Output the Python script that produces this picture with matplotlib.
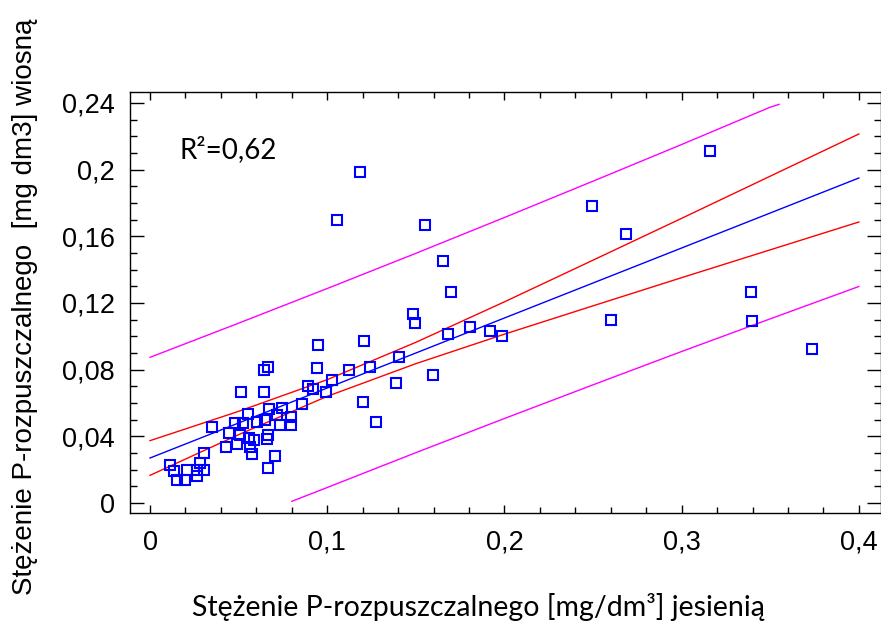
import numpy as np
import matplotlib.pyplot as plt
from matplotlib.ticker import MultipleLocator

# punkty pomiarowe (jesien, wiosna)
x_jesien = [0.1185, 0.1057, 0.1554, 0.1651, 0.1697, 0.1483, 0.1496, 0.168, 0.1806, 0.1919,
            0.1985, 0.1599, 0.1405, 0.1388, 0.2493, 0.2686, 0.316, 0.26, 0.3393, 0.3397,
            0.3738, 0.095, 0.1209, 0.1204, 0.1275, 0.1243, 0.1125, 0.1025, 0.0992, 0.0944,
            0.0893, 0.0922, 0.0859, 0.0796, 0.0796, 0.0743, 0.0734, 0.0715, 0.0705, 0.0672,
            0.0668, 0.0659, 0.0668, 0.0668, 0.0643, 0.0643, 0.0514, 0.0553, 0.0649, 0.0602,
            0.0525, 0.0477, 0.0347, 0.0448, 0.0508, 0.0429, 0.0489, 0.056, 0.0587, 0.0564,
            0.0577, 0.0305, 0.0282, 0.0305, 0.0206, 0.0264, 0.0113, 0.0135, 0.0151, 0.0198,
            0.0264]
y_wiosna = [0.1986, 0.1698, 0.1666, 0.1454, 0.1266, 0.1134, 0.1083, 0.1014, 0.1054, 0.1034,
            0.1002, 0.0771, 0.0874, 0.0718, 0.1782, 0.1616, 0.2112, 0.1098, 0.1266, 0.109,
            0.0922, 0.095, 0.0972, 0.0606, 0.0489, 0.0819, 0.0798, 0.0738, 0.0668, 0.0808,
            0.0704, 0.0684, 0.0597, 0.0518, 0.0468, 0.0568, 0.0468, 0.0531, 0.0282, 0.0564,
            0.0408, 0.0382, 0.0208, 0.0814, 0.0798, 0.0668, 0.0668, 0.0537, 0.0498, 0.0488,
            0.0478, 0.0483, 0.0454, 0.042, 0.0411, 0.0334, 0.0354, 0.0388, 0.0378, 0.0338,
            0.0292, 0.0298, 0.024, 0.0198, 0.0198, 0.0162, 0.0228, 0.0192, 0.0138, 0.0138,
            0.0198]

# linia regresji i przedzialy ufnosci / predykcji
x_fit = [0.0, 0.05, 0.1, 0.15, 0.2, 0.25, 0.3, 0.35, 0.4]
y_fit = [0.027, 0.048, 0.069, 0.090, 0.111, 0.132, 0.153, 0.174, 0.195]
conf_gorna = [0.0374, 0.055, 0.074, 0.0964, 0.1207, 0.1457, 0.1708, 0.1961, 0.2214]
conf_dolna = [0.0166, 0.041, 0.064, 0.0836, 0.1013, 0.1183, 0.1352, 0.1519, 0.1686]
x_pred_gorna = [0.0, 0.05, 0.1, 0.15, 0.2, 0.25, 0.3, 0.35, 0.355]
pred_gorna = [0.0874, 0.1079, 0.1287, 0.1498, 0.1713, 0.1931, 0.2151, 0.2375, 0.2392]
x_pred_dolna = [0.08, 0.1, 0.15, 0.2, 0.25, 0.3, 0.35, 0.4]
pred_dolna = [0.001, 0.0093, 0.0302, 0.0507, 0.0709, 0.0909, 0.1105, 0.1299]

xticks = [0, 0.1, 0.2, 0.3, 0.4]
xtick_labels = ['0', '0,1', '0,2', '0,3', '0,4']
yticks = [0, 0.04, 0.08, 0.12, 0.16, 0.2, 0.24]
ytick_labels = ['0', '0,04', '0,08', '0,12', '0,16', '0,2', '0,24']

fig = plt.figure(figsize=(8.81, 6.25), dpi=100)
ax = fig.add_axes([130 / 881, 1 - 513 / 625, 751 / 881, 421 / 625])

ax.plot(x_pred_gorna, pred_gorna, color='#FF00FF', lw=1.0)
ax.plot(x_pred_dolna, pred_dolna, color='#FF00FF', lw=1.0)
ax.plot(x_fit, conf_gorna, color='#FF0000', lw=1.0)
ax.plot(x_fit, conf_dolna, color='#FF0000', lw=1.0)
ax.plot(x_fit, y_fit, color='#0000FF', lw=1.0)
ax.plot(x_jesien, y_wiosna, 's', ms=7.4, mfc='none', mec='#0000FF', mew=1.5)

ax.set_xlim(-0.0113, 0.4125)
ax.set_ylim(-0.006, 0.2466)
ax.set_xticks(xticks)
ax.set_xticklabels(xtick_labels)
ax.set_yticks(yticks)
ax.set_yticklabels(ytick_labels)
ax.xaxis.set_minor_locator(MultipleLocator(0.02))
ax.yaxis.set_minor_locator(MultipleLocator(0.01))
ax.tick_params(which='both', direction='in', top=True, right=True, width=1)
ax.tick_params(axis='x', which='major', length=6, pad=12)
ax.tick_params(axis='x', which='minor', length=4)
ax.tick_params(axis='y', which='major', length=10, pad=11)
ax.tick_params(axis='y', which='minor', length=5)
for lab in ax.get_xticklabels() + ax.get_yticklabels():
    lab.set_fontfamily('Liberation Sans')
    lab.set_fontsize(19.5)
for s in ax.spines.values():
    s.set_linewidth(1)

fig.text(180 / 881, 1 - 150 / 625, 'R²=0,62', fontsize=20, family='Lato', va='center')

fig.text(25 / 881, 1 - 307 / 625, 'Stężenie P-rozpuszczalnego  [mg dm3] wiosną',
         rotation=90, ha='center', va='center', fontsize=20, family='Liberation Sans')
fig.text(478 / 881, 1 - 607 / 625, 'Stężenie P-rozpuszczalnego [mg/dm³] jesienią',
         ha='center', va='center', fontsize=20.5, family='Lato')

fig.savefig('out.png', dpi=100)
